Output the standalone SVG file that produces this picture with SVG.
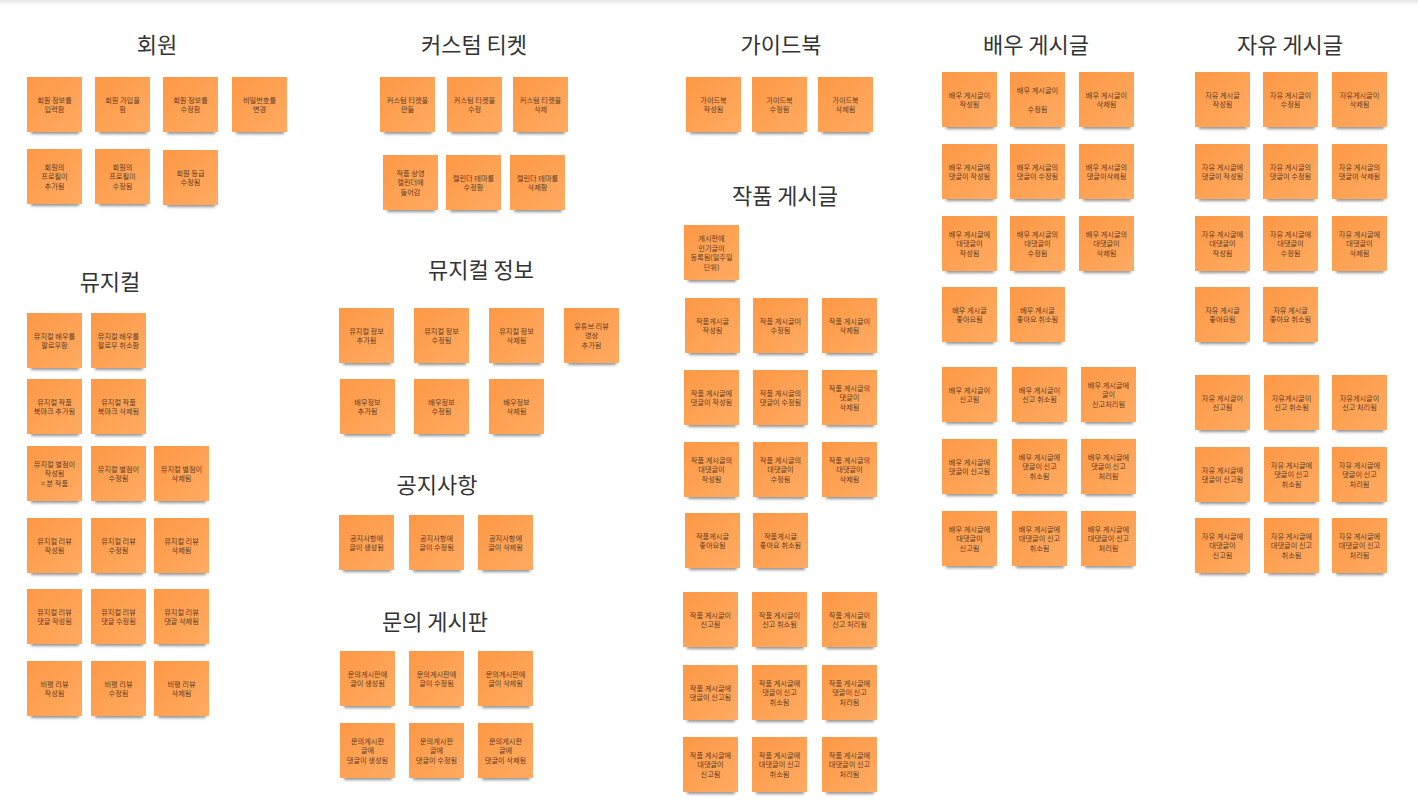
<svg xmlns="http://www.w3.org/2000/svg" xmlns:xlink="http://www.w3.org/1999/xlink" width="1418" height="805" viewBox="0 0 1418 805">
<style>
.title{font-family:"Noto Sans CJK KR","Noto Sans",sans-serif;font-size:22px;fill:#333;text-anchor:middle}
.t{font-family:"Noto Sans CJK KR","Noto Sans",sans-serif;font-size:7.2px;fill:#5e3c24;text-anchor:middle}
</style>
<defs>
<linearGradient id="og" x1="0" y1="0" x2="1" y2="1">
<stop offset="0" stop-color="#fd9845"/>
<stop offset="1" stop-color="#ffab62"/>
</linearGradient>
<linearGradient id="topg" x1="0" y1="0" x2="0" y2="1">
<stop offset="0" stop-color="#e6e6e6"/>
<stop offset="1" stop-color="#ffffff"/>
</linearGradient>
<filter id="blur" x="-20%" y="-100%" width="140%" height="300%">
<feGaussianBlur stdDeviation="1.8"/>
</filter>
<g id="sticky">
<rect x="4" y="50" width="48" height="7" fill="#3a3a3a" opacity="0.55" filter="url(#blur)"/>
<rect width="55" height="55" fill="url(#og)"/>
</g>
</defs>
<rect width="1418" height="805" fill="#ffffff"/>
<rect width="1418" height="5" fill="url(#topg)"/>

<g id="titles">
<text class="title" x="157" y="53">회원</text>
<text class="title" x="110" y="290">뮤지컬</text>
<text class="title" x="474" y="53">커스텀 티켓</text>
<text class="title" x="481" y="278">뮤지컬 정보</text>
<text class="title" x="437" y="493">공지사항</text>
<text class="title" x="435" y="630">문의 게시판</text>
<text class="title" x="781" y="53">가이드북</text>
<text class="title" x="785" y="204">작품 게시글</text>
<text class="title" x="1036" y="53">배우 게시글</text>
<text class="title" x="1290" y="53">자유 게시글</text>
</g>

<g id="connectors"/>

<!-- 회원 -->
<g id="m1" transform="translate(27,77)"><use xlink:href="#sticky"/><text class="t"><tspan x="27.5" y="25.5">회원 정보를</tspan><tspan x="27.5" y="35">입력함</tspan></text></g>
<g id="m2" transform="translate(95,77)"><use xlink:href="#sticky"/><text class="t"><tspan x="27.5" y="25.5">회원 가입을</tspan><tspan x="27.5" y="35">함</tspan></text></g>
<g id="m3" transform="translate(163,77)"><use xlink:href="#sticky"/><text class="t"><tspan x="27.5" y="25.5">회원 정보를</tspan><tspan x="27.5" y="35">수정함</tspan></text></g>
<g id="m4" transform="translate(232,77)"><use xlink:href="#sticky"/><text class="t"><tspan x="27.5" y="25.5">비밀번호를</tspan><tspan x="27.5" y="35">변경</tspan></text></g>
<g id="m5" transform="translate(27,149)"><use xlink:href="#sticky"/><text class="t"><tspan x="27.5" y="20.5">회원의</tspan><tspan x="27.5" y="30">프로필이</tspan><tspan x="27.5" y="39.5">추가됨</tspan></text></g>
<g id="m6" transform="translate(95,149)"><use xlink:href="#sticky"/><text class="t"><tspan x="27.5" y="20.5">회원의</tspan><tspan x="27.5" y="30">프로필이</tspan><tspan x="27.5" y="39.5">수정됨</tspan></text></g>
<g id="m7" transform="translate(163,150)"><use xlink:href="#sticky"/><text class="t"><tspan x="27.5" y="25.5">회원 등급</tspan><tspan x="27.5" y="35">수정됨</tspan></text></g>

<!-- 뮤지컬 -->
<g id="mu1" transform="translate(27,313)"><use xlink:href="#sticky"/><text class="t"><tspan x="27.5" y="25.5">뮤지컬 배우를</tspan><tspan x="27.5" y="35">팔로우함</tspan></text></g>
<g id="mu2" transform="translate(91,313)"><use xlink:href="#sticky"/><text class="t"><tspan x="27.5" y="25.5">뮤지컬 배우를</tspan><tspan x="27.5" y="35">팔로우 취소함</tspan></text></g>
<g id="mu3" transform="translate(27,379)"><use xlink:href="#sticky"/><text class="t"><tspan x="27.5" y="25.5">뮤지컬 작품</tspan><tspan x="27.5" y="35">북마크 추가됨</tspan></text></g>
<g id="mu4" transform="translate(91,379)"><use xlink:href="#sticky"/><text class="t"><tspan x="27.5" y="25.5">뮤지컬 작품</tspan><tspan x="27.5" y="35">북마크 삭제됨</tspan></text></g>
<g id="mu5" transform="translate(27,446)"><use xlink:href="#sticky"/><text class="t"><tspan x="27.5" y="20.5">뮤지컬 별점이</tspan><tspan x="27.5" y="30">작성됨</tspan><tspan x="27.5" y="39.5">= 본 작품</tspan></text></g>
<g id="mu6" transform="translate(91,446)"><use xlink:href="#sticky"/><text class="t"><tspan x="27.5" y="25.5">뮤지컬 별점이</tspan><tspan x="27.5" y="35">수정됨</tspan></text></g>
<g id="mu7" transform="translate(154,446)"><use xlink:href="#sticky"/><text class="t"><tspan x="27.5" y="25.5">뮤지컬 별점이</tspan><tspan x="27.5" y="35">삭제됨</tspan></text></g>
<g id="mu8" transform="translate(27,518)"><use xlink:href="#sticky"/><text class="t"><tspan x="27.5" y="25.5">뮤지컬 리뷰</tspan><tspan x="27.5" y="35">작성됨</tspan></text></g>
<g id="mu9" transform="translate(91,518)"><use xlink:href="#sticky"/><text class="t"><tspan x="27.5" y="25.5">뮤지컬 리뷰</tspan><tspan x="27.5" y="35">수정됨</tspan></text></g>
<g id="mu10" transform="translate(154,518)"><use xlink:href="#sticky"/><text class="t"><tspan x="27.5" y="25.5">뮤지컬 리뷰</tspan><tspan x="27.5" y="35">삭제됨</tspan></text></g>
<g id="mu11" transform="translate(27,589)"><use xlink:href="#sticky"/><text class="t"><tspan x="27.5" y="25.5">뮤지컬 리뷰</tspan><tspan x="27.5" y="35">댓글 작성됨</tspan></text></g>
<g id="mu12" transform="translate(91,589)"><use xlink:href="#sticky"/><text class="t"><tspan x="27.5" y="25.5">뮤지컬 리뷰</tspan><tspan x="27.5" y="35">댓글 수정됨</tspan></text></g>
<g id="mu13" transform="translate(154,589)"><use xlink:href="#sticky"/><text class="t"><tspan x="27.5" y="25.5">뮤지컬 리뷰</tspan><tspan x="27.5" y="35">댓글 삭제됨</tspan></text></g>
<g id="mu14" transform="translate(27,661)"><use xlink:href="#sticky"/><text class="t"><tspan x="27.5" y="25.5">비평 리뷰</tspan><tspan x="27.5" y="35">작성됨</tspan></text></g>
<g id="mu15" transform="translate(91,661)"><use xlink:href="#sticky"/><text class="t"><tspan x="27.5" y="25.5">비평 리뷰</tspan><tspan x="27.5" y="35">수정됨</tspan></text></g>
<g id="mu16" transform="translate(154,661)"><use xlink:href="#sticky"/><text class="t"><tspan x="27.5" y="25.5">비평 리뷰</tspan><tspan x="27.5" y="35">삭제됨</tspan></text></g>

<!-- 커스텀 티켓 -->
<g id="c1" transform="translate(380,77)"><use xlink:href="#sticky"/><text class="t"><tspan x="27.5" y="25.5">커스텀 티켓을</tspan><tspan x="27.5" y="35">만듦</tspan></text></g>
<g id="c2" transform="translate(447,77)"><use xlink:href="#sticky"/><text class="t"><tspan x="27.5" y="25.5">커스텀 티켓을</tspan><tspan x="27.5" y="35">수정</tspan></text></g>
<g id="c3" transform="translate(513,77)"><use xlink:href="#sticky"/><text class="t"><tspan x="27.5" y="25.5">커스텀 티켓을</tspan><tspan x="27.5" y="35">삭제</tspan></text></g>
<g id="c4" transform="translate(383,155)"><use xlink:href="#sticky"/><text class="t"><tspan x="27.5" y="20.5">작품 상영</tspan><tspan x="27.5" y="30">캘린더에</tspan><tspan x="27.5" y="39.5">들어감</tspan></text></g>
<g id="c5" transform="translate(446,155)"><use xlink:href="#sticky"/><text class="t"><tspan x="27.5" y="25.5">캘린더 테마를</tspan><tspan x="27.5" y="35">수정함</tspan></text></g>
<g id="c6" transform="translate(510,155)"><use xlink:href="#sticky"/><text class="t"><tspan x="27.5" y="25.5">캘린더 테마를</tspan><tspan x="27.5" y="35">삭제함</tspan></text></g>

<!-- 뮤지컬 정보 -->
<g id="i1" transform="translate(339,308)"><use xlink:href="#sticky"/><text class="t"><tspan x="27.5" y="25.5">뮤지컬 정보</tspan><tspan x="27.5" y="35">추가됨</tspan></text></g>
<g id="i2" transform="translate(414,308)"><use xlink:href="#sticky"/><text class="t"><tspan x="27.5" y="25.5">뮤지컬 정보</tspan><tspan x="27.5" y="35">수정됨</tspan></text></g>
<g id="i3" transform="translate(489,308)"><use xlink:href="#sticky"/><text class="t"><tspan x="27.5" y="25.5">뮤지컬 정보</tspan><tspan x="27.5" y="35">삭제됨</tspan></text></g>
<g id="i4" transform="translate(564,308)"><use xlink:href="#sticky"/><text class="t"><tspan x="27.5" y="20.5">유튜브 리뷰</tspan><tspan x="27.5" y="30">영상</tspan><tspan x="27.5" y="39.5">추가됨</tspan></text></g>
<g id="i5" transform="translate(340,379)"><use xlink:href="#sticky"/><text class="t"><tspan x="27.5" y="25.5">배우정보</tspan><tspan x="27.5" y="35">추가됨</tspan></text></g>
<g id="i6" transform="translate(414,379)"><use xlink:href="#sticky"/><text class="t"><tspan x="27.5" y="25.5">배우정보</tspan><tspan x="27.5" y="35">수정됨</tspan></text></g>
<g id="i7" transform="translate(489,379)"><use xlink:href="#sticky"/><text class="t"><tspan x="27.5" y="25.5">배우정보</tspan><tspan x="27.5" y="35">삭제됨</tspan></text></g>

<!-- 공지사항 -->
<g id="g1" transform="translate(339,515)"><use xlink:href="#sticky"/><text class="t"><tspan x="27.5" y="25.5">공지사항에</tspan><tspan x="27.5" y="35">글이 생성됨</tspan></text></g>
<g id="g2" transform="translate(409,515)"><use xlink:href="#sticky"/><text class="t"><tspan x="27.5" y="25.5">공지사항에</tspan><tspan x="27.5" y="35">글이 수정됨</tspan></text></g>
<g id="g3" transform="translate(478,515)"><use xlink:href="#sticky"/><text class="t"><tspan x="27.5" y="25.5">공지사항에</tspan><tspan x="27.5" y="35">글이 삭제됨</tspan></text></g>

<!-- 문의 게시판 -->
<g id="q1" transform="translate(340,651)"><use xlink:href="#sticky"/><text class="t"><tspan x="27.5" y="25.5">문의게시판에</tspan><tspan x="27.5" y="35">글이 생성됨</tspan></text></g>
<g id="q2" transform="translate(409,651)"><use xlink:href="#sticky"/><text class="t"><tspan x="27.5" y="25.5">문의게시판에</tspan><tspan x="27.5" y="35">글이 수정됨</tspan></text></g>
<g id="q3" transform="translate(478,651)"><use xlink:href="#sticky"/><text class="t"><tspan x="27.5" y="25.5">문의게시판에</tspan><tspan x="27.5" y="35">글이 삭제됨</tspan></text></g>
<g id="q4" transform="translate(340,723)"><use xlink:href="#sticky"/><text class="t"><tspan x="27.5" y="20.5">문의게시판</tspan><tspan x="27.5" y="30">글에</tspan><tspan x="27.5" y="39.5">댓글이 생성됨</tspan></text></g>
<g id="q5" transform="translate(409,723)"><use xlink:href="#sticky"/><text class="t"><tspan x="27.5" y="20.5">문의게시판</tspan><tspan x="27.5" y="30">글에</tspan><tspan x="27.5" y="39.5">댓글이 수정됨</tspan></text></g>
<g id="q6" transform="translate(478,723)"><use xlink:href="#sticky"/><text class="t"><tspan x="27.5" y="20.5">문의게시판</tspan><tspan x="27.5" y="30">글에</tspan><tspan x="27.5" y="39.5">댓글이 삭제됨</tspan></text></g>

<!-- 가이드북 -->
<g id="b1" transform="translate(686,77)"><use xlink:href="#sticky"/><text class="t"><tspan x="27.5" y="25.5">가이드북</tspan><tspan x="27.5" y="35">작성됨</tspan></text></g>
<g id="b2" transform="translate(752,77)"><use xlink:href="#sticky"/><text class="t"><tspan x="27.5" y="25.5">가이드북</tspan><tspan x="27.5" y="35">수정됨</tspan></text></g>
<g id="b3" transform="translate(818,77)"><use xlink:href="#sticky"/><text class="t"><tspan x="27.5" y="25.5">가이드북</tspan><tspan x="27.5" y="35">삭제됨</tspan></text></g>

<!-- 작품 게시글 -->
<g id="w0" transform="translate(684,225)"><use xlink:href="#sticky"/><text class="t"><tspan x="27.5" y="16">게시판에</tspan><tspan x="27.5" y="25.5">인기글이</tspan><tspan x="27.5" y="35">등록됨(일주일</tspan><tspan x="27.5" y="44.5">단위)</tspan></text></g>
<g id="w1" transform="translate(685,298)"><use xlink:href="#sticky"/><text class="t"><tspan x="27.5" y="25.5">작품게시글</tspan><tspan x="27.5" y="35">작성됨</tspan></text></g>
<g id="w2" transform="translate(753,298)"><use xlink:href="#sticky"/><text class="t"><tspan x="27.5" y="25.5">작품 게시글이</tspan><tspan x="27.5" y="35">수정됨</tspan></text></g>
<g id="w3" transform="translate(822,298)"><use xlink:href="#sticky"/><text class="t"><tspan x="27.5" y="25.5">작품 게시글이</tspan><tspan x="27.5" y="35">삭제됨</tspan></text></g>
<g id="w4" transform="translate(684,370)"><use xlink:href="#sticky"/><text class="t"><tspan x="27.5" y="25.5">작품 게시글에</tspan><tspan x="27.5" y="35">댓글이 작성됨</tspan></text></g>
<g id="w5" transform="translate(753,370)"><use xlink:href="#sticky"/><text class="t"><tspan x="27.5" y="25.5">작품 게시글의</tspan><tspan x="27.5" y="35">댓글이 수정됨</tspan></text></g>
<g id="w6" transform="translate(822,370)"><use xlink:href="#sticky"/><text class="t"><tspan x="27.5" y="20.5">작품 게시글의</tspan><tspan x="27.5" y="30">댓글이</tspan><tspan x="27.5" y="39.5">삭제됨</tspan></text></g>
<g id="w7" transform="translate(684,442)"><use xlink:href="#sticky"/><text class="t"><tspan x="27.5" y="20.5">작품 게시글의</tspan><tspan x="27.5" y="30">대댓글이</tspan><tspan x="27.5" y="39.5">작성됨</tspan></text></g>
<g id="w8" transform="translate(753,442)"><use xlink:href="#sticky"/><text class="t"><tspan x="27.5" y="20.5">작품 게시글의</tspan><tspan x="27.5" y="30">대댓글이</tspan><tspan x="27.5" y="39.5">수정됨</tspan></text></g>
<g id="w9" transform="translate(822,442)"><use xlink:href="#sticky"/><text class="t"><tspan x="27.5" y="20.5">작품 게시글의</tspan><tspan x="27.5" y="30">대댓글이</tspan><tspan x="27.5" y="39.5">삭제됨</tspan></text></g>
<g id="w10" transform="translate(685,513)"><use xlink:href="#sticky"/><text class="t"><tspan x="27.5" y="25.5">작품게시글</tspan><tspan x="27.5" y="35">좋아요됨</tspan></text></g>
<g id="w11" transform="translate(753,513)"><use xlink:href="#sticky"/><text class="t"><tspan x="27.5" y="25.5">작품게시글</tspan><tspan x="27.5" y="35">좋아요 취소됨</tspan></text></g>
<g id="w12" transform="translate(683,592)"><use xlink:href="#sticky"/><text class="t"><tspan x="27.5" y="25.5">작품 게시글이</tspan><tspan x="27.5" y="35">신고됨</tspan></text></g>
<g id="w13" transform="translate(752,592)"><use xlink:href="#sticky"/><text class="t"><tspan x="27.5" y="25.5">작품 게시글이</tspan><tspan x="27.5" y="35">신고 취소됨</tspan></text></g>
<g id="w14" transform="translate(822,592)"><use xlink:href="#sticky"/><text class="t"><tspan x="27.5" y="25.5">작품 게시글이</tspan><tspan x="27.5" y="35">신고 처리됨</tspan></text></g>
<g id="w15" transform="translate(683,665)"><use xlink:href="#sticky"/><text class="t"><tspan x="27.5" y="25.5">작품 게시글에</tspan><tspan x="27.5" y="35">댓글이 신고됨</tspan></text></g>
<g id="w16" transform="translate(752,665)"><use xlink:href="#sticky"/><text class="t"><tspan x="27.5" y="20.5">작품 게시글에</tspan><tspan x="27.5" y="30">댓글이 신고</tspan><tspan x="27.5" y="39.5">취소됨</tspan></text></g>
<g id="w17" transform="translate(822,665)"><use xlink:href="#sticky"/><text class="t"><tspan x="27.5" y="20.5">작품 게시글에</tspan><tspan x="27.5" y="30">댓글이 신고</tspan><tspan x="27.5" y="39.5">처리됨</tspan></text></g>
<g id="w18" transform="translate(683,737)"><use xlink:href="#sticky"/><text class="t"><tspan x="27.5" y="20.5">작품 게시글에</tspan><tspan x="27.5" y="30">대댓글이</tspan><tspan x="27.5" y="39.5">신고됨</tspan></text></g>
<g id="w19" transform="translate(752,737)"><use xlink:href="#sticky"/><text class="t"><tspan x="27.5" y="20.5">작품 게시글에</tspan><tspan x="27.5" y="30">대댓글이 신고</tspan><tspan x="27.5" y="39.5">취소됨</tspan></text></g>
<g id="w20" transform="translate(822,737)"><use xlink:href="#sticky"/><text class="t"><tspan x="27.5" y="20.5">작품 게시글에</tspan><tspan x="27.5" y="30">대댓글이 신고</tspan><tspan x="27.5" y="39.5">처리됨</tspan></text></g>

<!-- 배우 게시글 -->
<g id="a1" transform="translate(942,72)"><use xlink:href="#sticky"/><text class="t"><tspan x="27.5" y="25.5">배우 게시글이</tspan><tspan x="27.5" y="35">작성됨</tspan></text></g>
<g id="a2" transform="translate(1010,72)"><use xlink:href="#sticky"/><text class="t"><tspan x="27.5" y="20.5">배우 게시글이</tspan><tspan x="27.5" y="39.5">수정됨</tspan></text></g>
<g id="a3" transform="translate(1079,72)"><use xlink:href="#sticky"/><text class="t"><tspan x="27.5" y="25.5">배우 게시글이</tspan><tspan x="27.5" y="35">삭제됨</tspan></text></g>
<g id="a4" transform="translate(942,144)"><use xlink:href="#sticky"/><text class="t"><tspan x="27.5" y="25.5">배우 게시글에</tspan><tspan x="27.5" y="35">댓글이 작성됨</tspan></text></g>
<g id="a5" transform="translate(1010,144)"><use xlink:href="#sticky"/><text class="t"><tspan x="27.5" y="25.5">배우 게시글의</tspan><tspan x="27.5" y="35">댓글이 수정됨</tspan></text></g>
<g id="a6" transform="translate(1079,144)"><use xlink:href="#sticky"/><text class="t"><tspan x="27.5" y="25.5">배우 게시글의</tspan><tspan x="27.5" y="35">댓글이삭제됨</tspan></text></g>
<g id="a7" transform="translate(942,216)"><use xlink:href="#sticky"/><text class="t"><tspan x="27.5" y="20.5">배우 게시글에</tspan><tspan x="27.5" y="30">대댓글이</tspan><tspan x="27.5" y="39.5">작성됨</tspan></text></g>
<g id="a8" transform="translate(1010,216)"><use xlink:href="#sticky"/><text class="t"><tspan x="27.5" y="20.5">배우 게시글의</tspan><tspan x="27.5" y="30">대댓글이</tspan><tspan x="27.5" y="39.5">수정됨</tspan></text></g>
<g id="a9" transform="translate(1079,216)"><use xlink:href="#sticky"/><text class="t"><tspan x="27.5" y="20.5">배우 게시글의</tspan><tspan x="27.5" y="30">대댓글이</tspan><tspan x="27.5" y="39.5">삭제됨</tspan></text></g>
<g id="a10" transform="translate(942,287)"><use xlink:href="#sticky"/><text class="t"><tspan x="27.5" y="25.5">배우 게시글</tspan><tspan x="27.5" y="35">좋아요됨</tspan></text></g>
<g id="a11" transform="translate(1010,287)"><use xlink:href="#sticky"/><text class="t"><tspan x="27.5" y="25.5">배우 게시글</tspan><tspan x="27.5" y="35">좋아요 취소됨</tspan></text></g>
<g id="a12" transform="translate(942,367)"><use xlink:href="#sticky"/><text class="t"><tspan x="27.5" y="25.5">배우 게시글이</tspan><tspan x="27.5" y="35">신고됨</tspan></text></g>
<g id="a13" transform="translate(1012,367)"><use xlink:href="#sticky"/><text class="t"><tspan x="27.5" y="25.5">배우 게시글이</tspan><tspan x="27.5" y="35">신고 취소됨</tspan></text></g>
<g id="a14" transform="translate(1081,367)"><use xlink:href="#sticky"/><text class="t"><tspan x="27.5" y="20.5">배우 게시글에</tspan><tspan x="27.5" y="30">글이</tspan><tspan x="27.5" y="39.5">신고처리됨</tspan></text></g>
<g id="a15" transform="translate(942,439)"><use xlink:href="#sticky"/><text class="t"><tspan x="27.5" y="25.5">배우 게시글에</tspan><tspan x="27.5" y="35">댓글이 신고됨</tspan></text></g>
<g id="a16" transform="translate(1012,439)"><use xlink:href="#sticky"/><text class="t"><tspan x="27.5" y="20.5">배우 게시글에</tspan><tspan x="27.5" y="30">댓글이 신고</tspan><tspan x="27.5" y="39.5">취소됨</tspan></text></g>
<g id="a17" transform="translate(1081,439)"><use xlink:href="#sticky"/><text class="t"><tspan x="27.5" y="20.5">배우 게시글에</tspan><tspan x="27.5" y="30">댓글이 신고</tspan><tspan x="27.5" y="39.5">처리됨</tspan></text></g>
<g id="a18" transform="translate(942,511)"><use xlink:href="#sticky"/><text class="t"><tspan x="27.5" y="20.5">배우 게시글에</tspan><tspan x="27.5" y="30">대댓글이</tspan><tspan x="27.5" y="39.5">신고됨</tspan></text></g>
<g id="a19" transform="translate(1012,511)"><use xlink:href="#sticky"/><text class="t"><tspan x="27.5" y="20.5">배우 게시글에</tspan><tspan x="27.5" y="30">대댓글이 신고</tspan><tspan x="27.5" y="39.5">취소됨</tspan></text></g>
<g id="a20" transform="translate(1081,511)"><use xlink:href="#sticky"/><text class="t"><tspan x="27.5" y="20.5">배우 게시글에</tspan><tspan x="27.5" y="30">대댓글이 신고</tspan><tspan x="27.5" y="39.5">처리됨</tspan></text></g>

<!-- 자유 게시글 -->
<g id="f1" transform="translate(1195,72)"><use xlink:href="#sticky"/><text class="t"><tspan x="27.5" y="25.5">자유 게시글</tspan><tspan x="27.5" y="35">작성됨</tspan></text></g>
<g id="f2" transform="translate(1263,72)"><use xlink:href="#sticky"/><text class="t"><tspan x="27.5" y="25.5">자유 게시글이</tspan><tspan x="27.5" y="35">수정됨</tspan></text></g>
<g id="f3" transform="translate(1332,72)"><use xlink:href="#sticky"/><text class="t"><tspan x="27.5" y="25.5">자유게시글이</tspan><tspan x="27.5" y="35">삭제됨</tspan></text></g>
<g id="f4" transform="translate(1195,144)"><use xlink:href="#sticky"/><text class="t"><tspan x="27.5" y="25.5">자유 게시글에</tspan><tspan x="27.5" y="35">댓글이 작성됨</tspan></text></g>
<g id="f5" transform="translate(1263,144)"><use xlink:href="#sticky"/><text class="t"><tspan x="27.5" y="25.5">자유 게시글의</tspan><tspan x="27.5" y="35">댓글이 수정됨</tspan></text></g>
<g id="f6" transform="translate(1332,144)"><use xlink:href="#sticky"/><text class="t"><tspan x="27.5" y="25.5">자유 게시글의</tspan><tspan x="27.5" y="35">댓글이 삭제됨</tspan></text></g>
<g id="f7" transform="translate(1195,216)"><use xlink:href="#sticky"/><text class="t"><tspan x="27.5" y="20.5">자유 게시글에</tspan><tspan x="27.5" y="30">대댓글이</tspan><tspan x="27.5" y="39.5">작성됨</tspan></text></g>
<g id="f8" transform="translate(1263,216)"><use xlink:href="#sticky"/><text class="t"><tspan x="27.5" y="20.5">자유 게시글에</tspan><tspan x="27.5" y="30">대댓글이</tspan><tspan x="27.5" y="39.5">수정됨</tspan></text></g>
<g id="f9" transform="translate(1332,216)"><use xlink:href="#sticky"/><text class="t"><tspan x="27.5" y="20.5">자유 게시글에</tspan><tspan x="27.5" y="30">대댓글이</tspan><tspan x="27.5" y="39.5">삭제됨</tspan></text></g>
<g id="f10" transform="translate(1195,287)"><use xlink:href="#sticky"/><text class="t"><tspan x="27.5" y="25.5">자유 게시글</tspan><tspan x="27.5" y="35">좋아요됨</tspan></text></g>
<g id="f11" transform="translate(1263,287)"><use xlink:href="#sticky"/><text class="t"><tspan x="27.5" y="25.5">자유 게시글</tspan><tspan x="27.5" y="35">좋아요 취소됨</tspan></text></g>
<g id="f12" transform="translate(1195,375)"><use xlink:href="#sticky"/><text class="t"><tspan x="27.5" y="25.5">자유 게시글이</tspan><tspan x="27.5" y="35">신고됨</tspan></text></g>
<g id="f13" transform="translate(1264,375)"><use xlink:href="#sticky"/><text class="t"><tspan x="27.5" y="25.5">자유게시글이</tspan><tspan x="27.5" y="35">신고 취소됨</tspan></text></g>
<g id="f14" transform="translate(1332,375)"><use xlink:href="#sticky"/><text class="t"><tspan x="27.5" y="25.5">자유게시글이</tspan><tspan x="27.5" y="35">신고 처리됨</tspan></text></g>
<g id="f15" transform="translate(1195,447)"><use xlink:href="#sticky"/><text class="t"><tspan x="27.5" y="25.5">자유 게시글에</tspan><tspan x="27.5" y="35">댓글이 신고됨</tspan></text></g>
<g id="f16" transform="translate(1264,447)"><use xlink:href="#sticky"/><text class="t"><tspan x="27.5" y="20.5">자유 게시글에</tspan><tspan x="27.5" y="30">댓글이 신고</tspan><tspan x="27.5" y="39.5">취소됨</tspan></text></g>
<g id="f17" transform="translate(1332,447)"><use xlink:href="#sticky"/><text class="t"><tspan x="27.5" y="20.5">자유 게시글에</tspan><tspan x="27.5" y="30">댓글이 신고</tspan><tspan x="27.5" y="39.5">처리됨</tspan></text></g>
<g id="f18" transform="translate(1195,518)"><use xlink:href="#sticky"/><text class="t"><tspan x="27.5" y="20.5">자유 게시글에</tspan><tspan x="27.5" y="30">대댓글이</tspan><tspan x="27.5" y="39.5">신고됨</tspan></text></g>
<g id="f19" transform="translate(1264,518)"><use xlink:href="#sticky"/><text class="t"><tspan x="27.5" y="20.5">자유 게시글에</tspan><tspan x="27.5" y="30">대댓글이 신고</tspan><tspan x="27.5" y="39.5">취소됨</tspan></text></g>
<g id="f20" transform="translate(1332,518)"><use xlink:href="#sticky"/><text class="t"><tspan x="27.5" y="20.5">자유 게시글에</tspan><tspan x="27.5" y="30">대댓글이 신고</tspan><tspan x="27.5" y="39.5">처리됨</tspan></text></g>
</svg>
